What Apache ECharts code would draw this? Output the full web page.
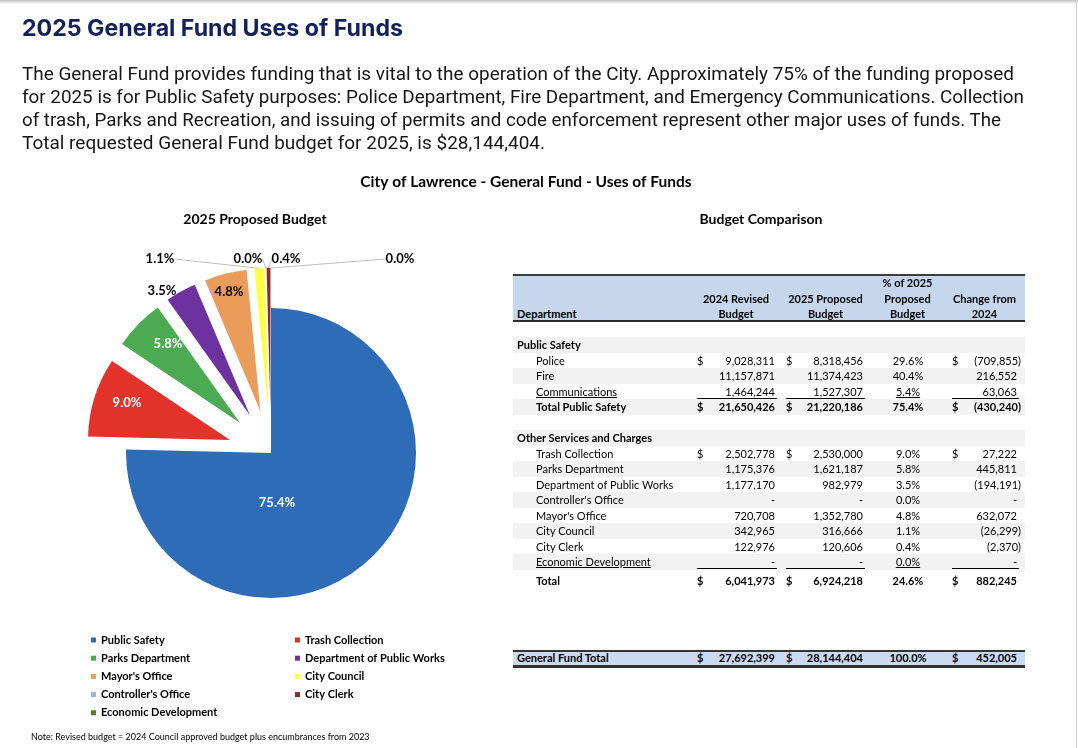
<!DOCTYPE html>
<html><head><meta charset="utf-8">
<script src="https://cdn.jsdelivr.net/npm/echarts@6/dist/echarts.min.js"></script>
<style>
html,body{margin:0;padding:0;background:#fff;}
#page{position:relative;width:1078px;height:748px;overflow:hidden;background:#fff;}
#chart{position:absolute;left:0;top:0;width:1078px;height:748px;z-index:0;}
.ov{position:absolute;z-index:3;white-space:nowrap;display:inline-block;transform-origin:0 0;}
.cell{position:absolute;z-index:3;white-space:nowrap;font-family:Lato,sans-serif;font-size:11px;color:#000;height:15.5px;line-height:15.5px;}
.band{position:absolute;z-index:1;left:513px;width:512px;}
.rule{position:absolute;z-index:2;}
</style></head>
<body><div id="page"><div id="chart"></div></div>
<script>
// ---------- data ----------
const titleText = '2025 General Fund Uses of Funds';
const paragraphLines = [
  'The General Fund provides funding that is vital to the operation of the City. Approximately 75% of the funding proposed',
  'for 2025 is for Public Safety purposes: Police Department, Fire Department, and Emergency Communications. Collection',
  'of trash, Parks and Recreation, and issuing of permits and code enforcement represent other major uses of funds. The',
  'Total requested General Fund budget for 2025, is $28,144,404.'
];
const pieNames = ['Public Safety','Trash Collection','Parks Department','Department of Public Works',"Mayor's Office",'City Council',"Controller's Office",'City Clerk','Economic Development'];
const pieValues = [21220186, 2530000, 1621187, 982979, 1352780, 316666, 0, 120606, 0];

const colHeaders = [['2024 Revised','Budget'],['2025 Proposed','Budget'],['% of 2025','Proposed','Budget'],['Change from','2024']];
const safetyDepts = ['Police','Fire','Communications'];
const safetyRevised = [9028311, 11157871, 1464244];
const safetyProposed = [8318456, 11374423, 1527307];
const safetyPct = [29.6, 40.4, 5.4];
const safetyChange = [-709855, 216552, 63063];
const safetyTotal = [21650426, 21220186, 75.4, -430240];
const otherDepts = ['Trash Collection','Parks Department','Department of Public Works',"Controller's Office","Mayor's Office",'City Council','City Clerk','Economic Development'];
const otherRevised = [2502778, 1175376, 1177170, 0, 720708, 342965, 122976, 0];
const otherProposed = [2530000, 1621187, 982979, 0, 1352780, 316666, 120606, 0];
const otherPct = [9.0, 5.8, 3.5, 0.0, 4.8, 1.1, 0.4, 0.0];
const otherChange = [27222, 445811, -194191, 0, 632072, -26299, -2370, 0];
const otherTotal = [6041973, 6924218, 24.6, 882245];
const fundTotal = [27692399, 28144404, 100.0, 452005];

// ---------- styles / layout ----------
const pieColors = ['#2f6cb7','#e3322a','#4caa52','#6d31a0','#eb9c5a','#ffff45','#9fb4d7','#8b2c2c','#5b7a2b'];
const labelColors = ['#fff','#fff','#fff','#000','#000','#000','#000','#000','#000'];
const labelPos = [[277,503],[127,403],[168,344],[162,291],[229,292],[160,259],[248,259],[286,259],[400,259]];
const labelLineOn = [false,false,false,false,false,true,true,true,true];
const PIE_C = [271, 453], PIE_R = 145, PIE_R_EXPLODED = 142, EXPLODE = 43;

const page = document.getElementById('page');
function add(cls, css, text){
  const d = document.createElement('div'); d.className = cls;
  Object.assign(d.style, css); if (text != null) d.textContent = text;
  page.appendChild(d); return d;
}
// page decorations
add('rule', {left:'0px', top:'0px', width:'1078px', height:'4px', background:'linear-gradient(#bdbdbd,#ffffff)'});
add('rule', {left:'1076px', top:'0px', width:'1px', height:'748px', background:'#d4d4d4'});

// title + paragraph
const t = add('ov', {left:'22px', top:'17px', fontFamily:'Inter,sans-serif', fontWeight:'700', fontSize:'23px', lineHeight:'23px', color:'#13215a'}, titleText);
t.dataset.w = 381;
const lineW = [992, 1002, 979, 523];
paragraphLines.forEach((s, i) => {
  const e = add('ov', {left:'22px', top:(62 + i*23)+'px', fontFamily:'Roboto,sans-serif', fontSize:'18px', lineHeight:'23px', color:'#161616'}, s);
  e.dataset.w = lineW[i];
});
function fit(){
  document.querySelectorAll('[data-w]').forEach(el => {
    el.style.transform = 'none';
    const w = el.getBoundingClientRect().width;
    el.style.transform = 'scaleX(' + (+el.dataset.w / w) + ')';
  });
}
fit();
if (document.fonts && document.fonts.ready) document.fonts.ready.then(fit);

// ---------- table ----------
const X = {lab:517, ind:536, d1:697, v1:775, d2:786, v2:863, pct:908, d4:952, v4:1017};
const ROW0 = 345, RH = 15.5;
function fmtNum(n){ if (n === 0) return '-'; const s = Math.abs(n).toLocaleString('en-US'); return n < 0 ? '(' + s + ')' : s; }
function textCell(x, cy, text, opt){
  opt = opt || {};
  const css = {top:(cy - 7.75)+'px'};
  if (opt.align === 'right'){ css.left = (x - 200)+'px'; css.width='200px'; css.textAlign='right'; }
  else if (opt.align === 'center'){ css.left = (x - 60)+'px'; css.width='120px'; css.textAlign='center'; }
  else css.left = x+'px';
  if (opt.bold) css.fontWeight = '700';
  if (opt.underline) css.textDecoration = 'underline';
  return add('cell', css, text);
}
function band(top, h, color){ add('band', {top:top+'px', height:h+'px', background:color}); }
function rule(x1, x2, y, h, color){ add('rule', {left:x1+'px', width:(x2-x1)+'px', top:y+'px', height:h+'px', background:color}); }

function dataRow(cy, label, vals, o){
  textCell(o.indent ? X.ind : X.lab, cy, label, {bold:o.bold, underline:o.underline});
  if (o.dollar){ textCell(X.d1, cy, '$', {bold:o.bold}); textCell(X.d2, cy, '$', {bold:o.bold}); textCell(X.d4, cy, '$', {bold:o.bold}); }
  const cols = [X.v1, X.v2, null, X.v4];
  [0,1,3].forEach(k => {
    const v = vals[k];
    textCell(cols[k] + (v < 0 ? 4 : 0), cy, fmtNum(v), {align:'right', bold:o.bold});
  });
  textCell(X.pct, cy, vals[2].toFixed(1) + '%', {align:'center', bold:o.bold, underline:o.underline});
  if (o.underline){
    rule(697, 777, cy + 6, 1, '#000');
    rule(786, 865, cy + 6, 1, '#000');
    rule(952, 1019, cy + 6, 1, '#000');
  }
}

// header
band(276, 45, '#c6d6ec');
rule(513, 1025, 274, 2, '#3d3d3d');
rule(513, 1025, 320, 2, '#2e2e2e');
textCell(X.lab, 314, 'Department', {bold:true});
const hdrX = [736, 825.5, 907.5, 984.5];
colHeaders.forEach((lines, c) => {
  lines.forEach((s, j) => {
    const cy = 314 - (lines.length - 1 - j) * 15.5;
    textCell(hdrX[c], cy, s, {align:'center', bold:true});
  });
});

// shading for alternating rows
for (let r = 0; r <= 14; r += 2) band(ROW0 + r*RH - 7.75, RH, '#f2f2f2');

textCell(X.lab, ROW0, 'Public Safety', {bold:true});
safetyDepts.forEach((d, i) => dataRow(ROW0 + (1+i)*RH, d, [safetyRevised[i], safetyProposed[i], safetyPct[i], safetyChange[i]],
  {indent:true, dollar:i===0, underline:i===safetyDepts.length-1}));
dataRow(ROW0 + 4*RH, 'Total Public Safety', safetyTotal, {indent:true, bold:true, dollar:true});
textCell(X.lab, ROW0 + 6*RH, 'Other Services and Charges', {bold:true});
otherDepts.forEach((d, i) => dataRow(ROW0 + (7+i)*RH, d, [otherRevised[i], otherProposed[i], otherPct[i], otherChange[i]],
  {indent:true, dollar:i===0, underline:i===otherDepts.length-1}));
dataRow(ROW0 + 15*RH + 3.5, 'Total', otherTotal, {indent:true, bold:true, dollar:true});

// general fund total
band(651, 14, '#ccdaf0');
rule(513, 1025, 650, 1.5, '#333');
rule(513, 1025, 665, 2.5, '#333');
dataRow(658, 'General Fund Total', fundTotal, {bold:true, dollar:true});

// ---------- pie chart (exploded: one pie layer per slice, each drawn by the pie series) ----------
const pieTotal = pieValues.reduce((a, b) => a + b, 0);
const cumBefore = pieValues.map((v, i) => pieValues.slice(0, i).reduce((a, b) => a + b, 0));
function sliceSeries(k){
  const mid = (cumBefore[k] + pieValues[k] / 2) / pieTotal * 2 * Math.PI; // clockwise from 12 o'clock
  const off = k === 0 ? 0 : EXPLODE;
  return {
    type:'pie', name:'layer' + k,
    center:[PIE_C[0] + off * Math.sin(mid), PIE_C[1] - off * Math.cos(mid)],
    radius:k === 0 ? PIE_R : PIE_R_EXPLODED, startAngle:90, clockwise:true, avoidLabelOverlap:false,
    emphasis:{disabled:true}, silent:true, z:2,
    itemStyle:{borderWidth:0},
    label:{fontFamily:'Lato', fontWeight:'bold', fontSize:13,
      formatter:p => (p.value / pieTotal * 100).toFixed(1) + '%'},
    labelLine:{length:10, length2:0, lineStyle:{color:'#bfbfbf', width:1}},
    labelLayout:function(params){
      const p = labelPos[params.dataIndex];
      return {x:p[0], y:p[1], align:'center', verticalAlign:'middle'};
    },
    data:pieNames.map((n, i) => ({
      name:n, value:pieValues[i],
      itemStyle:{color: i === k ? pieColors[i] : 'rgba(0,0,0,0)'},
      label:{show: i === k, color:labelColors[i]},
      labelLine:{show: i === k && labelLineOn[i]}
    }))
  };
}
const chart = echarts.init(document.getElementById('chart'));
const legendText = {fontFamily:'Lato', fontWeight:'bold', fontSize:11, color:'#000', lineHeight:14};
const legendItem = i => ({name:pieNames[i], itemStyle:{color:pieColors[i]}});
chart.setOption({
  animation:false,
  backgroundColor:'transparent',
  graphic:[
    {type:'text', x:526, y:182, style:{text:'City of Lawrence - General Fund - Uses of Funds', textAlign:'center', textVerticalAlign:'middle', font:'bold 15.5px Lato', fill:'#000'}},
    {type:'text', x:255, y:219, style:{text:'2025 Proposed Budget', textAlign:'center', textVerticalAlign:'middle', font:'bold 14px Lato', fill:'#000'}},
    {type:'text', x:761, y:219, style:{text:'Budget Comparison', textAlign:'center', textVerticalAlign:'middle', font:'bold 14px Lato', fill:'#000'}},
    {type:'text', x:31, y:737, style:{text:'Note: Revised budget = 2024 Council approved budget plus encumbrances from 2023', textAlign:'left', textVerticalAlign:'middle', font:'9px Lato', fill:'#000'}}
  ],
  legend:[
    {orient:'vertical', left:86, top:628, itemWidth:5, itemHeight:5, itemGap:4.2, icon:'rect', selectedMode:false,
     data:pieNames.map((n, i) => i).filter(i => i % 2 === 0).map(legendItem), textStyle:legendText},
    {orient:'vertical', left:290, top:628, itemWidth:5, itemHeight:5, itemGap:4.2, icon:'rect', selectedMode:false,
     data:pieNames.map((n, i) => i).filter(i => i % 2 === 1).map(legendItem), textStyle:legendText}
  ],
  series:pieNames.map((n, k) => sliceSeries(k))
});
</script></body></html>
